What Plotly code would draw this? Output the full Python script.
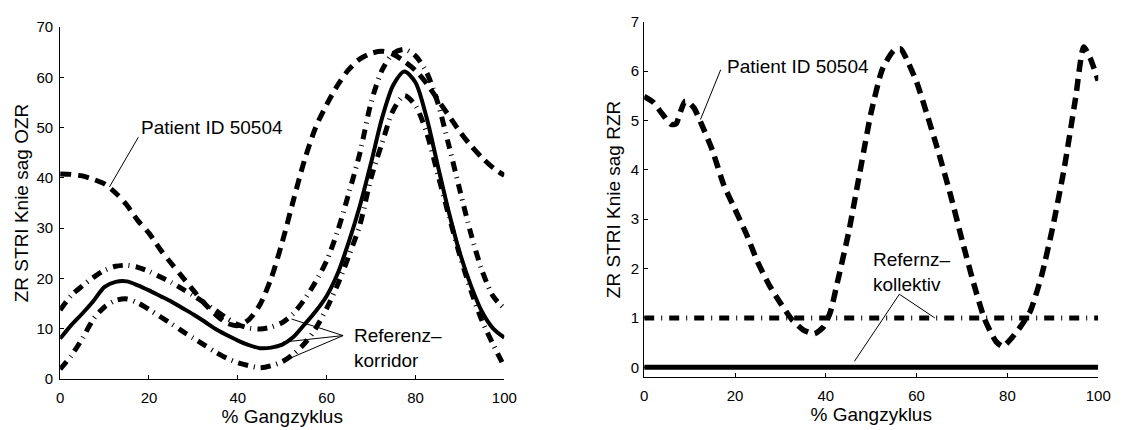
import plotly.graph_objects as go

# ---------------- data: left panel (ZR STRI Knie sag OZR) ----------------
x_left = [0, 2.5, 5, 7.5, 10, 12.5, 15, 17.5, 20, 22.5, 25, 27.5, 30, 32.5, 35, 37.5,
          40, 42.5, 45, 47.5, 50, 52.5, 55, 57.5, 60, 62.5, 65, 67.5, 70, 72.5, 75,
          77.5, 80, 82.5, 85, 87.5, 90, 92.5, 95, 97.5, 100]

mean_left = [8.0, 10.7, 13.0, 15.5, 18.3, 19.3, 19.4, 18.6, 17.6, 16.5, 15.4, 14.1, 12.8, 11.4, 9.9, 8.7,
             7.6, 6.7, 6.1, 6.2, 6.8, 8.3, 10.8, 13.4, 16.5, 21.0, 27.3, 34.5, 43.0, 52.0, 58.5,
             61.2, 59.0, 52.0, 42.5, 33.2, 25.0, 18.5, 13.3, 10.0, 8.2]

upper_left = [13.7, 16.6, 18.5, 20.2, 21.6, 22.4, 22.6, 22.2, 21.4, 20.3, 19.2, 17.9, 16.6, 15.1, 13.6, 12.1,
              10.8, 10.1, 9.9, 10.3, 11.2, 13.0, 15.8, 19.3, 23.5, 29.5, 37.0, 45.0, 55.0, 61.5, 64.8,
              65.6, 64.3, 61.0, 55.0, 46.5, 37.5, 28.8, 21.5, 16.4, 14.0]

lower_left = [1.9, 4.6, 8.0, 11.9, 14.3, 15.6, 15.9, 15.1, 13.8, 12.4, 11.0, 9.5, 8.1, 6.7, 5.3, 4.1,
              3.2, 2.6, 2.2, 2.6, 3.4, 4.9, 7.0, 10.0, 14.0, 18.8, 24.5, 30.7, 40.0, 47.0, 53.5,
              56.4, 54.4, 49.0, 40.8, 32.5, 24.5, 17.5, 11.5, 6.8, 2.4]

patient_left = [40.8, 40.7, 40.4, 39.7, 38.8, 37.0, 34.6, 31.5, 29.0, 25.8, 23.0, 20.3, 17.6, 15.0, 12.8, 11.1,
                10.6, 11.8, 14.8, 20.0, 27.2, 35.5, 43.5, 50.0, 54.6, 58.5, 61.6, 63.7, 64.8, 65.2, 64.6,
                63.2, 61.4, 58.8, 55.6, 52.4, 49.2, 46.4, 44.0, 42.0, 40.5]

# ---------------- data: right panel (ZR STRI Knie sag RZR) ----------------
x_right = [0, 2, 4, 6, 7, 8, 9, 10, 11, 12.5, 15, 17.5, 20, 22.5, 25, 27.5, 30, 32.5, 35, 37.5,
           39.5, 41, 42.5, 45, 47.5, 50, 52.5, 55, 56.5, 57.5, 60, 62.5, 65, 67.5, 70, 72.5,
           75, 77.5, 79, 81, 83, 85, 87.5, 90, 92.5, 95, 96.8, 98.2, 100]

patient_right = [5.49, 5.37, 5.13, 4.92, 4.93, 5.18, 5.39, 5.35, 5.25, 4.95, 4.40, 3.70, 3.20, 2.70, 2.13, 1.67,
                 1.30, 0.97, 0.76, 0.68, 0.82, 1.12, 1.70, 2.72, 3.95, 5.17, 6.05, 6.42, 6.45, 6.30, 5.78,
                 5.06, 4.30, 3.48, 2.58, 1.72, 0.97, 0.52, 0.42, 0.60, 0.84, 1.13, 1.85, 2.85, 4.03,
                 5.45, 6.49, 6.27, 5.81]

ref_x = [0, 100]
ref_upper_right = [1, 1]
ref_mean_right = [0, 0]

x_ticks = [0, 20, 40, 60, 80, 100]
y_ticks_left = [0, 10, 20, 30, 40, 50, 60, 70]
y_ticks_right = [0, 1, 2, 3, 4, 5, 6, 7]

x_title = "% Gangzyklus"
y_title_left = "ZR STRI Knie sag OZR"
y_title_right = "ZR STRI Knie sag RZR"

# ---------------- styles ----------------
FONT = "Liberation Sans, Arial, sans-serif"
DASHDOT = "10px,6px,1px,6px"
DASH = "11px,7px"

fig = go.Figure()

# left panel
fig.add_trace(go.Scatter(x=x_left, y=upper_left, mode="lines", xaxis="x", yaxis="y",
                         line=dict(color="black", width=5, dash=DASHDOT, shape="spline", smoothing=0.8)))
fig.add_trace(go.Scatter(x=x_left, y=lower_left, mode="lines", xaxis="x", yaxis="y",
                         line=dict(color="black", width=5, dash=DASHDOT, shape="spline", smoothing=0.8)))
fig.add_trace(go.Scatter(x=x_left, y=mean_left, mode="lines", xaxis="x", yaxis="y",
                         line=dict(color="black", width=4, shape="spline", smoothing=0.8)))
fig.add_trace(go.Scatter(x=x_left, y=patient_left, mode="lines", xaxis="x", yaxis="y",
                         line=dict(color="black", width=5, dash=DASH, shape="spline", smoothing=0.8)))

# right panel
fig.add_trace(go.Scatter(x=ref_x, y=ref_mean_right, mode="lines", xaxis="x2", yaxis="y2",
                         line=dict(color="black", width=5)))
fig.add_trace(go.Scatter(x=ref_x, y=ref_upper_right, mode="lines", xaxis="x2", yaxis="y2",
                         line=dict(color="black", width=5, dash="10px,7px,1px,7px")))
fig.add_trace(go.Scatter(x=x_right, y=patient_right, mode="lines", xaxis="x2", yaxis="y2",
                         line=dict(color="black", width=5.5, dash="12px,7px", shape="spline", smoothing=0.6)))

axis_common = dict(showline=True, linecolor="black", linewidth=1, ticks="inside", ticklen=4,
                   tickcolor="black", showgrid=False, zeroline=False,
                   tickfont=dict(family=FONT, size=15, color="black"))

W, H = 1127, 430
fig.update_layout(
    width=W, height=H,
    margin=dict(l=0, r=0, t=0, b=0),
    paper_bgcolor="white", plot_bgcolor="white",
    showlegend=False,
    font=dict(family=FONT, color="black"),
    xaxis=dict(domain=[57 / W, 508 / W], range=[0, 100], tickvals=x_ticks, anchor="y", ticklabelstandoff=5,
               title=dict(text=x_title, font=dict(family=FONT, size=19), standoff=1), **axis_common),
    yaxis=dict(domain=[1 - 385 / H, 1 - 19 / H], range=[0, 70], tickvals=y_ticks_left, anchor="x",
               ticklabelstandoff=3,
               title=dict(text=y_title_left, font=dict(family=FONT, size=19), standoff=2), **axis_common),
    xaxis2=dict(domain=[650 / W, 1111 / W], range=[0, 100], tickvals=x_ticks, anchor="y2", ticklabelstandoff=5,
                title=dict(text=x_title, font=dict(family=FONT, size=19), standoff=1), **axis_common),
    yaxis2=dict(domain=[1 - 383.3 / H, 1 - 13.3 / H], range=[-0.2, 7], tickvals=y_ticks_right, anchor="x2",
                ticklabelstandoff=1,
                title=dict(text=y_title_right, font=dict(family=FONT, size=19), standoff=5), **axis_common),
)

# ---------------- annotations (labels + pointer lines) ----------------
label_font = dict(family=FONT, size=19, color="black")
fig.add_annotation(x=17.7, y=50.1, xref="x", yref="y", text="Patient ID 50504", showarrow=False,
                   xanchor="left", yanchor="middle", font=label_font)
fig.add_annotation(x=65.8, y=6.1, xref="x", yref="y", text="Referenz–<br>korridor", showarrow=False,
                   xanchor="left", yanchor="middle", align="left", font=label_font)
fig.add_annotation(x=17.7, y=6.09, xref="x2", yref="y2", text="Patient ID 50504", showarrow=False,
                   xanchor="left", yanchor="middle", font=label_font)
fig.add_annotation(x=49.9, y=1.93, xref="x2", yref="y2", text="Refernz–<br>kollektiv", showarrow=False,
                   xanchor="left", yanchor="middle", align="left", font=label_font)

pointer_lines = [
    ("x", "y", 17.6, 48.1, 11.1, 38.2),
    ("x", "y", 63.7, 8.6, 52.1, 11.9),
    ("x", "y", 63.7, 8.6, 50.2, 7.3),
    ("x", "y", 63.7, 8.6, 51.0, 3.8),
    ("x2", "y2", 16.85, 6.03, 12.4, 5.02),
    ("x2", "y2", 56.2, 1.48, 64.0, 1.0),
    ("x2", "y2", 56.2, 1.48, 46.3, 0.12),
]
for xr, yr, x0, y0, x1, y1 in pointer_lines:
    fig.add_shape(type="line", xref=xr, yref=yr, x0=x0, y0=y0, x1=x1, y1=y1,
                  line=dict(color="black", width=1))

fig.write_html("out.html")
